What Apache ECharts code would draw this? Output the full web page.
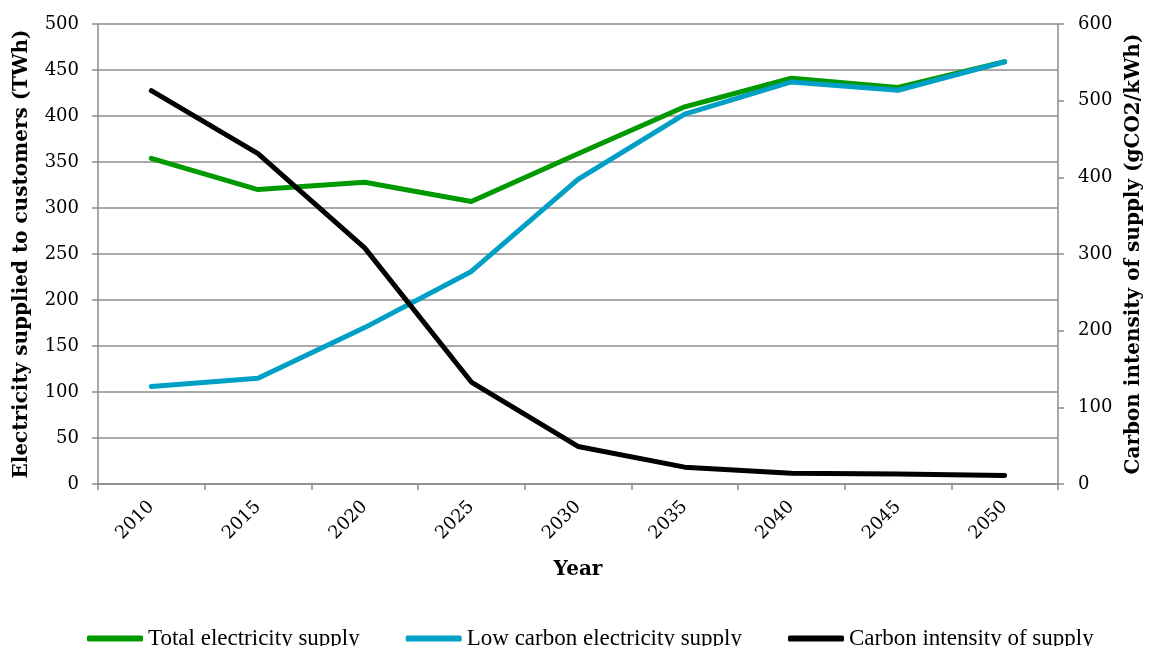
<!DOCTYPE html>
<html>
<head>
<meta charset="utf-8">
<script src="https://cdn.jsdelivr.net/npm/echarts@6/dist/echarts.min.js"></script>
<style>
  html, body { margin: 0; padding: 0; background: #fff; }
  #main { width: 1152px; height: 646px; }
</style>
</head>
<body>
<div id="main"></div>
<script>
const years = ['2010', '2015', '2020', '2025', '2030', '2035', '2040', '2045', '2050'];
// TWh, left axis
const totalSupply = [354, 320, 328, 307, 359, 410, 441, 431, 459];
const lowCarbonSupply = [106, 115, 170, 231, 331, 402, 437, 428, 459];
// gCO2/kWh, right axis
const carbonIntensity = [513, 431, 308, 133, 49, 22, 14, 13, 11];

const serif = '"DejaVu Serif", Georgia, serif';
const gridGrey = '#8c8c8c';

const chart = echarts.init(document.getElementById('main'), null, { renderer: 'canvas' });

const seriesLine = (name, data, color, axis) => ({
    name,
    type: 'line',
    yAxisIndex: axis,
    data,
    showSymbol: false,
    symbol: 'none',
    lineStyle: { width: 5, color, cap: 'round', join: 'round' },
    itemStyle: { color }
});

chart.setOption({
    animation: false,
    backgroundColor: '#fff',
    grid: { left: 98, right: 89, top: 24, bottom: 162 },
    legend: {
        top: 622,
        left: 82,
        icon: 'roundRect',
        itemWidth: 56,
        itemHeight: 6,
        itemGap: 46,
        textStyle: { fontFamily: '"Liberation Serif", "Times New Roman", serif', fontSize: 23, color: '#000' },
        data: ['Total electricity supply', 'Low carbon electricity supply', 'Carbon intensity of supply']
    },
    xAxis: {
        type: 'category',
        data: years,
        boundaryGap: true,
        name: 'Year',
        nameLocation: 'middle',
        nameGap: 76,
        nameTextStyle: { fontFamily: serif, fontWeight: 'bold', fontSize: 20, color: '#000' },
        axisLine: { lineStyle: { color: gridGrey, width: 1.5 } },
        axisTick: { show: true, length: 6, lineStyle: { color: gridGrey, width: 1.5 } },
        axisLabel: { rotate: 45, margin: 20, fontFamily: serif, fontSize: 18, color: '#000' }
    },
    yAxis: [{
        type: 'value',
        min: 0,
        max: 500,
        interval: 50,
        name: 'Electricity supplied to customers (TWh)',
        nameLocation: 'middle',
        nameGap: 66,
        nameTextStyle: { fontFamily: serif, fontWeight: 'bold', fontSize: 20, color: '#000' },
        axisLine: { show: true, lineStyle: { color: gridGrey, width: 1.5 } },
        axisTick: { show: true, length: 6, lineStyle: { color: gridGrey, width: 1.5 } },
        axisLabel: { margin: 19, fontFamily: serif, fontSize: 18, color: '#000' },
        splitLine: { show: true, lineStyle: { color: gridGrey, width: 1.5 } }
    }, {
        type: 'value',
        min: 0,
        max: 600,
        interval: 100,
        position: 'right',
        name: 'Carbon intensity of supply (gCO2/kWh)',
        nameLocation: 'middle',
        nameGap: 66,
        nameTextStyle: { fontFamily: serif, fontWeight: 'bold', fontSize: 20, color: '#000' },
        axisLine: { show: true, lineStyle: { color: gridGrey, width: 1.5 } },
        axisTick: { show: true, length: 6, lineStyle: { color: gridGrey, width: 1.5 } },
        axisLabel: { margin: 20, fontFamily: serif, fontSize: 18, color: '#000' },
        splitLine: { show: false }
    }],
    series: [
        seriesLine('Total electricity supply', totalSupply, '#009900', 0),
        seriesLine('Low carbon electricity supply', lowCarbonSupply, '#00a0c6', 0),
        seriesLine('Carbon intensity of supply', carbonIntensity, '#000000', 1)
    ]
});

window.addEventListener('resize', () => chart.resize());
</script>
</body>
</html>
